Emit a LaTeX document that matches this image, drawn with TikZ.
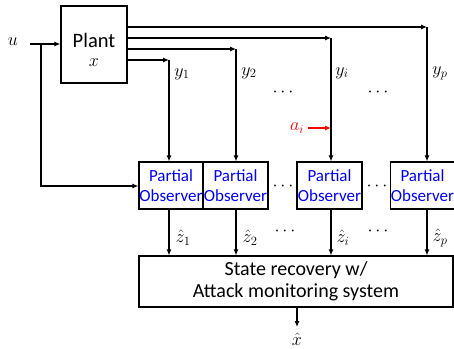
\RequirePackage{fix-cm}
\documentclass[tikz,border=0pt]{standalone}
\usepackage{fontspec}
\setmainfont{Carlito}
\usetikzlibrary{arrows.meta}
\begin{document}
\begin{tikzpicture}[x=1pt,y=-1pt,
  line width=1.1pt,
  arr/.style={-{Latex[length=6pt,width=5pt]}},
  box/.style={draw,rectangle,inner sep=0pt,align=center},
  obsbox/.style={box,minimum height=47pt,text=blue,font=\fontsize{17}{19.5}\selectfont},
  mlab/.style={inner sep=0pt,font=\fontsize{18}{20}\selectfont},
]
\useasboundingbox (0,0) rectangle (454,348);
% plant
\node[box,minimum width=66pt,minimum height=77pt] (plant) at (94,44.5) {};
\node[inner sep=0pt,font=\fontsize{20.5}{22}\selectfont] (plantt) at (94,40.5) {Plant};
\node[mlab] (plantx) at (94,63) {$x$};
\node[mlab] (u) at (13,42) {$u$};
\coordinate (ustart) at (30,44);
\coordinate (j) at (41,44);
\coordinate (jd) at (41,186);
% observers
\node[obsbox,minimum width=64pt] (o1) at (171,185.5) {Partial\\Observer};
\node[obsbox,minimum width=65pt] (o2) at (235.5,185.5) {Partial\\Observer};
\node[obsbox,minimum width=65pt] (oi) at (329.5,185.5) {Partial\\Observer};
\node[obsbox,minimum width=61pt] (op) at (422.5,185.5) {Partial\\Observer};
% state recovery
\node[box,minimum width=314pt,minimum height=51pt,font=\fontsize{20}{22}\selectfont] (st) at (296,281.5) {State recovery w/\\Attack monitoring system};
% corners
\coordinate (c1) at (169,60);
\coordinate (c2) at (236,49);
\coordinate (ci) at (331,38);
\coordinate (cp) at (427,27);
% plant outputs
\draw[arr] (plant.east|-c1) -- (c1);
\draw[arr] (plant.east|-c2) -- (c2);
\draw[arr] (plant.east|-ci) -- (ci);
\draw[arr] (plant.east|-cp) -- (cp);
\draw[arr] (c1) -- (c1|-o1.north);
\draw[arr] (c2) -- (c2|-o2.north);
\draw[arr] (ci) -- (ci|-oi.north);
\draw[arr] (cp) -- (cp|-op.north);
% input
\draw[arr] (ustart) -- (plant.west|-ustart);
\draw[arr] (j) -- (jd) -- (o1.west|-jd);
% z arrows
\draw[arr] (c1|-o1.south) -- (c1|-st.north);
\draw[arr] (c2|-o2.south) -- (c2|-st.north);
\draw[arr] (ci|-oi.south) -- (ci|-st.north);
\draw[arr] (cp|-op.south) -- (cp|-st.north);
% output
\coordinate (xo) at (297,327);
\draw[arr] (xo|-st.south) -- (xo);
\node[mlab] (xh) at (297,339) {$\hat{x}$};
% labels
\node[mlab] (y1) at (182,74) {$y_1$};
\node[mlab] (y2) at (249,73) {$y_2$};
\node[mlab] (yi) at (342,73) {$y_i$};
\node[mlab] (yp) at (440,73) {$y_p$};
\node[mlab] (d1) at (283,92) {$\cdots$};
\node[mlab] (d2) at (378,92) {$\cdots$};
\node[mlab] (d3) at (283,186) {$\cdots$};
\node[mlab] (d4) at (377,186) {$\cdots$};
\node[mlab] (z1) at (183,238) {$\hat{z}_1$};
\node[mlab] (z2) at (250,238) {$\hat{z}_2$};
\node[mlab] (zi) at (343,238) {$\hat{z}_i$};
\node[mlab] (zp) at (440,238) {$\hat{z}_p$};
\node[mlab] (d5) at (285,231) {$\cdots$};
\node[mlab] (d6) at (378,231) {$\cdots$};
% attack
\node[mlab,text=red] (ai) at (297,128) {$a_i$};
\draw[arr,red] (ai.east) ++(3,0) coordinate (ais) -- (ci|-ais);
\end{tikzpicture}
\end{document}
